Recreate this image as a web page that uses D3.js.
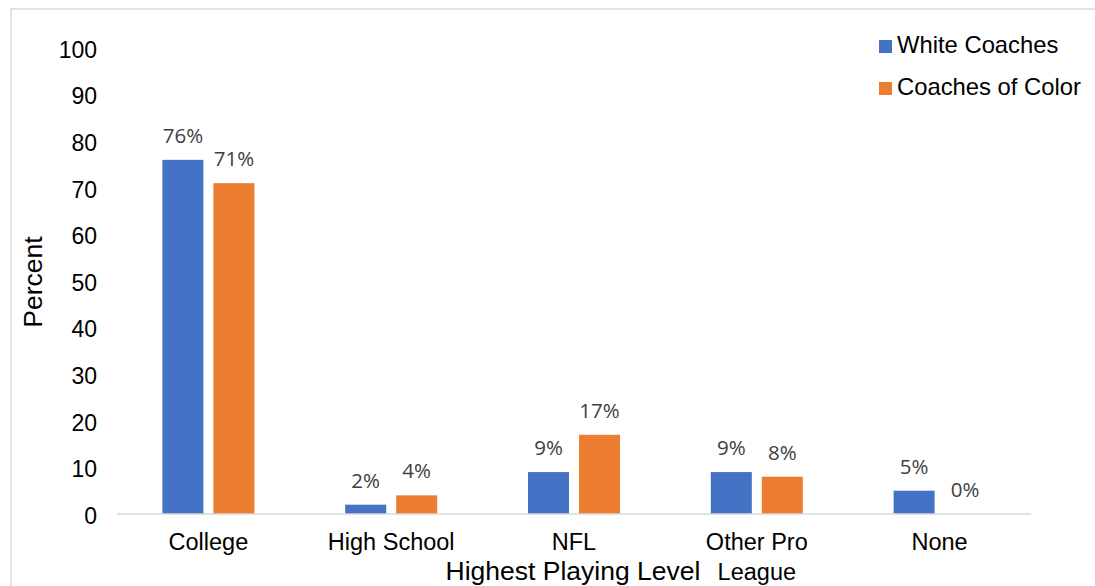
<!DOCTYPE html>
<html>
<head>
<meta charset="utf-8">
<script src="https://cdn.jsdelivr.net/npm/d3@7"></script>
<style>
html,body{margin:0;padding:0;background:#fff;}
svg{display:block;}
</style>
</head>
<body>
<script>
const categories = [["College"], ["High School"], ["NFL"], ["Other Pro", "League"], ["None"]];
const seriesNames = ["White Coaches", "Coaches of Color"];
const whiteCoaches = [76, 2, 9, 9, 5];
const coachesOfColor = [71, 4, 17, 8, 0];
const yTicks = [0, 10, 20, 30, 40, 50, 60, 70, 80, 90, 100];
const colors = ["#4472C4", "#ED7D31"];
const series = [whiteCoaches, coachesOfColor];

const W = 1095, H = 586;
const svg = d3.select("body").append("svg").attr("width", W).attr("height", H);

// chart border
svg.append("rect").attr("x", 11).attr("y", 9).attr("width", W + 20).attr("height", H + 20)
  .attr("fill", "none").attr("stroke", "#d9d9d9").attr("stroke-width", 1.5);

const plotLeft = 117, plotRight = 1031, plotTop = 48, plotBottom = 514;
const catKeys = categories.map(c => c.join(" "));
const x0 = d3.scaleBand().domain(catKeys).range([plotLeft, plotRight]).padding(0);
const groupW = 92;
const x1 = d3.scaleBand().domain(seriesNames).range([0, groupW]).paddingInner(0.196).paddingOuter(0);
const y = d3.scaleLinear().domain([0, 100]).range([plotBottom, plotTop]);

const FONT = "Liberation Sans, Arial, sans-serif";

// y axis labels
const yAxis = d3.axisLeft(y).tickValues(yTicks).tickSize(0).tickPadding(0);
const gy = svg.append("g").attr("transform", "translate(97,0)").call(yAxis);
gy.select(".domain").remove();
gy.selectAll("text").attr("font-family", FONT)
  .attr("font-size", 23).attr("fill", "#000").attr("dy", "0.40em");

// bars
const off = (x0.bandwidth() - groupW) / 2;
seriesNames.forEach((name, si) => {
  svg.append("g").selectAll("rect").data(series[si]).join("rect")
    .attr("x", (d, i) => x0(catKeys[i]) + off + x1(name))
    .attr("y", d => y(d))
    .attr("width", x1.bandwidth())
    .attr("height", d => y(0) - y(d))
    .attr("fill", colors[si]);
  svg.append("g").selectAll("text").data(series[si]).join("text")
    .attr("x", (d, i) => x0(catKeys[i]) + off + x1(name) + x1.bandwidth() / 2)
    .attr("y", d => y(d) - 17)
    .attr("text-anchor", "middle")
    .attr("font-family", "Open Sans, sans-serif")
    .attr("font-size", 20.5)
    .attr("fill", "#404040")
    .text(d => d + "%");
});

// x axis baseline
svg.append("line").attr("x1", plotLeft).attr("x2", plotRight)
  .attr("y1", plotBottom).attr("y2", plotBottom)
  .attr("stroke", "#d9d9d9").attr("stroke-width", 1.5);

// category labels
const xAxis = d3.axisBottom(x0).tickSize(0).tickPadding(0).tickFormat(() => "");
const gx = svg.append("g").attr("transform", `translate(0,${plotBottom})`).call(xAxis);
gx.select(".domain").remove();
gx.selectAll(".tick").each(function(d, i) {
  const t = d3.select(this).append("text")
    .attr("text-anchor", "middle")
    .attr("font-family", FONT)
    .attr("font-size", 23.5).attr("fill", "#000");
  categories[i].forEach((line, li) => {
    t.append("tspan").attr("x", 0).attr("y", 36 + li * 30).text(line);
  });
});

// axis titles
svg.append("text").attr("x", 573).attr("y", 580).attr("text-anchor", "middle")
  .attr("font-family", FONT).attr("font-size", 26.5)
  .attr("fill", "#000").text("Highest Playing Level");
svg.append("text").attr("transform", "translate(42,282) rotate(-90)").attr("text-anchor", "middle")
  .attr("font-family", FONT).attr("font-size", 26.5)
  .attr("fill", "#000").text("Percent");

// legend
const lg = svg.append("g");
seriesNames.forEach((name, i) => {
  const yy = 53 + i * 42;
  lg.append("rect").attr("x", 879).attr("y", yy - 13).attr("width", 13).attr("height", 13).attr("fill", colors[i]);
  lg.append("text").attr("x", 897).attr("y", yy).attr("font-family", FONT)
    .attr("font-size", 23.8).attr("fill", "#000").text(name);
});
</script>
</body>
</html>
